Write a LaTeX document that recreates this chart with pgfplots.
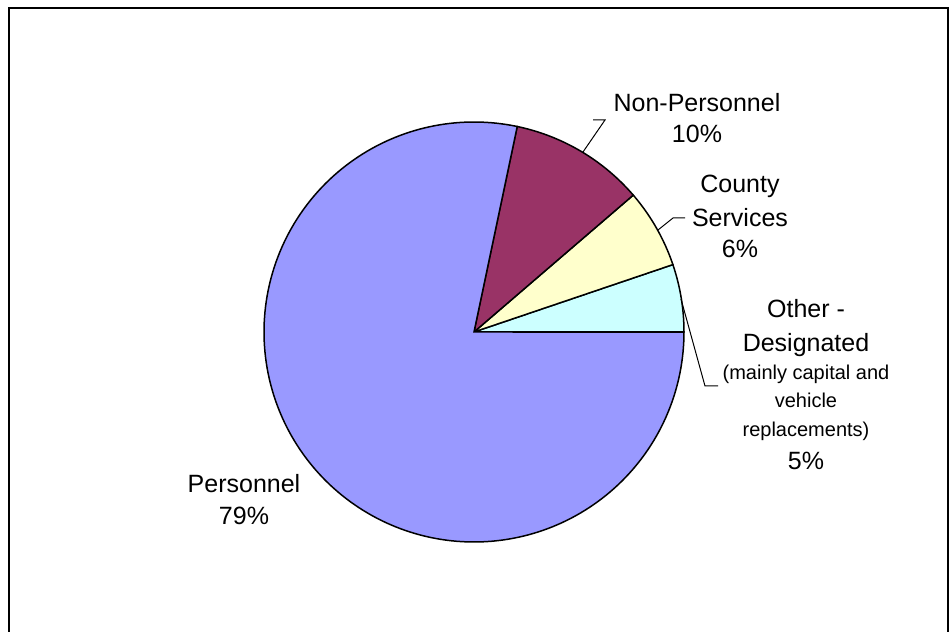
\documentclass[border=0pt]{standalone}
\usepackage{pgfplots}
\usepackage{pgfplotstable}
\pgfplotsset{compat=1.18}
\usepackage{fontspec}
\setmainfont{Liberation Sans}
\definecolor{cPers}{HTML}{9999FF}
\definecolor{cNon}{HTML}{993366}
\definecolor{cCounty}{HTML}{FFFFCC}
\definecolor{cOther}{HTML}{CCFFFF}
\pgfplotstableread{
label value
Other 5.2
County 6.1
NonPersonnel 10.4
Personnel 78.3
}\piedata
\pgfplotstablegetelem{0}{value}\of\piedata \let\vA\pgfplotsretval
\pgfplotstablegetelem{1}{value}\of\piedata \let\vB\pgfplotsretval
\pgfplotstablegetelem{2}{value}\of\piedata \let\vC\pgfplotsretval
\pgfplotstablegetelem{3}{value}\of\piedata \let\vD\pgfplotsretval
\pgfmathsetmacro\aA{3.6*\vA}
\pgfmathsetmacro\aB{\aA+3.6*\vB}
\pgfmathsetmacro\aC{\aB+3.6*\vC}
\pgfmathsetmacro\aD{\aC+3.6*\vD}
\newcommand\lblbig{\fontsize{12.5}{15}\selectfont}
\newcommand\lblsml{\fontsize{10}{12}\selectfont}
\begin{document}
\begin{tikzpicture}
\begin{axis}[
  width=475pt, height=316pt, scale only axis,
  xmin=0, xmax=950, ymin=0, ymax=632,
  axis lines=none, clip=false,
]
\path (axis cs:0,0) rectangle (axis cs:950,632);
% frame
\draw[black, line width=0.6pt] (axis cs:9,0) -- (axis cs:9,624) -- (axis cs:948,624) -- (axis cs:948,0);
% slices
\addplot[fill=cOther, draw=black, line width=0.75pt, domain=0:\aA, samples=30, variable=\t]
  ({474+210*cos(t)},{300+210*sin(t)}) -- (axis cs:474,300) -- cycle;
\addplot[fill=cCounty, draw=black, line width=0.75pt, domain=\aA:\aB, samples=30, variable=\t]
  ({474+210*cos(t)},{300+210*sin(t)}) -- (axis cs:474,300) -- cycle;
\addplot[fill=cNon, draw=black, line width=0.75pt, domain=\aB:\aC, samples=40, variable=\t]
  ({474+210*cos(t)},{300+210*sin(t)}) -- (axis cs:474,300) -- cycle;
\addplot[fill=cPers, draw=black, line width=0.75pt, domain=\aC:\aD, samples=200, variable=\t]
  ({474+210*cos(t)},{300+210*sin(t)}) -- (axis cs:474,300) -- cycle;
% leader lines
\draw[black, line width=0.5pt] (axis cs:583,480) -- (axis cs:605,512) -- (axis cs:593,512);
\draw[black, line width=0.5pt] (axis cs:658,402) -- (axis cs:673,414) -- (axis cs:685,414);
\draw[black, line width=0.5pt] (axis cs:681,333) -- (axis cs:705,246) -- (axis cs:718,246);
% labels
\node[anchor=base, inner sep=0pt, font=\lblbig] at (axis cs:697,520) {Non-Personnel};
\node[anchor=base, inner sep=0pt, font=\lblbig] at (axis cs:697,489) {10\%};
\node[anchor=base, inner sep=0pt, font=\lblbig] at (axis cs:740,439) {County};
\node[anchor=base, inner sep=0pt, font=\lblbig] at (axis cs:740,405) {Services};
\node[anchor=base, inner sep=0pt, font=\lblbig] at (axis cs:740,374) {6\%};
\node[anchor=base, inner sep=0pt, font=\lblbig] at (axis cs:806,314) {Other -};
\node[anchor=base, inner sep=0pt, font=\lblbig] at (axis cs:806,280) {Designated};
\node[anchor=base, inner sep=0pt, font=\lblsml] at (axis cs:806,252) {(mainly capital and};
\node[anchor=base, inner sep=0pt, font=\lblsml] at (axis cs:806,224) {vehicle};
\node[anchor=base, inner sep=0pt, font=\lblsml] at (axis cs:806,195) {replacements)};
\node[anchor=base, inner sep=0pt, font=\lblbig] at (axis cs:806,162) {5\%};
\node[anchor=base, inner sep=0pt, font=\lblbig] at (axis cs:244,139) {Personnel};
\node[anchor=base, inner sep=0pt, font=\lblbig] at (axis cs:244,107) {79\%};
\end{axis}
\end{tikzpicture}
\end{document}
